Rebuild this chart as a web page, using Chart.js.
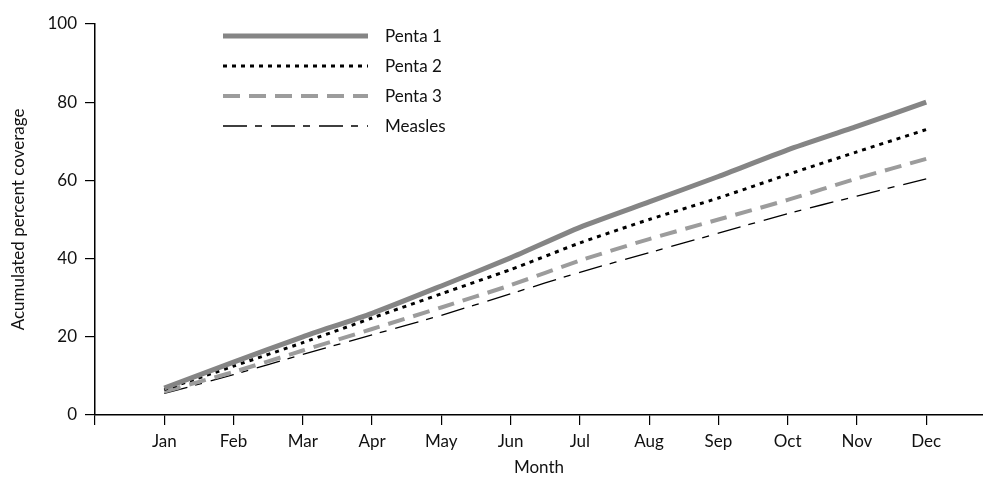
<!DOCTYPE html>
<html>
<head>
<meta charset="utf-8">
<script src="https://cdn.jsdelivr.net/npm/chart.js@4/dist/chart.umd.min.js"></script>
<style>
  html, body { margin: 0; padding: 0; background: #fff; }
  #wrap { width: 983px; height: 480px; }
</style>
</head>
<body>
<div id="wrap"><canvas id="cov"></canvas></div>
<script>
// data
var months = ["Jan","Feb","Mar","Apr","May","Jun","Jul","Aug","Sep","Oct","Nov","Dec"];
var penta1 = [6.9, 13.5, 20, 26, 33, 40.2, 48, 54.5, 61, 67.8, 73.8, 80];
var penta2 = [6.5, 12.5, 18.5, 24.8, 31, 37.2, 44, 50, 55.5, 61.5, 67.3, 73];
var penta3 = [6, 11, 16.5, 22, 27.5, 33.2, 39.5, 45, 50, 55, 60.5, 65.5];
var measles = [5.5, 10.3, 15.5, 20.5, 25.5, 31, 36.5, 41.5, 46.5, 51.5, 56, 60.4];
var yTicks = [0, 20, 40, 60, 80, 100];

var FONT = 'Lato';
var FSIZE = 17;

function pts(arr) {
    return arr.map(function(v, i){ return {x: i + 1, y: v}; });
}

// legend drawn inside the plot, top left
var legendInside = {
    id: 'legendInside',
    afterDraw: function(chart) {
        var c = chart.ctx;
        chart.data.datasets.forEach(function(ds, i) {
            var y = 36 + i * 30;
            c.save();
            c.strokeStyle = ds.borderColor;
            c.lineWidth = ds.borderWidth;
            c.setLineDash(ds.borderDash || []);
            c.beginPath();
            c.moveTo(223, y);
            c.lineTo(368, y);
            c.stroke();
            c.setLineDash([]);
            c.fillStyle = '#111';
            c.font = FSIZE + 'px ' + FONT;
            c.textBaseline = 'middle';
            c.fillText(ds.label, 385, y + 1);
            c.restore();
        });
    }
};

var ctx = document.getElementById("cov").getContext('2d');
var chart = new Chart(ctx, {
    type: 'line',
    data: {
        datasets: [{
            label: 'Penta 1',
            data: pts(penta1),
            borderColor: '#858585',
            borderWidth: 5,
            pointRadius: 0,
            tension: 0.2
        },
        {
            label: 'Penta 2',
            data: pts(penta2),
            borderColor: '#000000',
            borderWidth: 3,
            borderDash: [4, 5],
            pointRadius: 0,
            tension: 0.2
        },
        {
            label: 'Penta 3',
            data: pts(penta3),
            borderColor: '#9c9c9c',
            borderWidth: 4,
            borderDash: [17, 9],
            pointRadius: 0,
            tension: 0.2
        },
        {
            label: 'Measles',
            data: pts(measles),
            borderColor: '#000000',
            borderWidth: 1.3,
            borderDash: [24, 8, 7, 9],
            pointRadius: 0,
            tension: 0.2
        }]
    },
    options: {
        responsive: true,
        maintainAspectRatio: false,
        animation: false,
        events: [],
        layout: { padding: { top: 24, right: 0, left: 0, bottom: 0 } },
        plugins: {
            legend: { display: false },
            tooltip: { enabled: false }
        },
        scales: {
            x: {
                type: 'linear',
                min: 0,
                max: 12.82,
                afterBuildTicks: function(s) {
                    var t = [{value: 0}];
                    months.forEach(function(m, i){ t.push({value: i + 1}); });
                    s.ticks = t;
                },
                afterFit: function(s) { s.height = 65; },
                border: { color: '#000', width: 1.5 },
                grid: { drawOnChartArea: false, drawTicks: true, tickLength: 10, color: '#000', lineWidth: 1.2 },
                ticks: {
                    autoSkip: false,
                    maxRotation: 0,
                    padding: 6,
                    color: '#111',
                    font: { family: FONT, size: FSIZE },
                    callback: function(v) { return v >= 1 ? months[v - 1] : ''; }
                },
                title: {
                    display: true,
                    text: 'Month',
                    color: '#111',
                    font: { family: FONT, size: FSIZE },
                    padding: { top: 0, bottom: 2 }
                }
            },
            y: {
                min: 0,
                max: 100,
                afterBuildTicks: function(s) {
                    s.ticks = yTicks.map(function(v){ return {value: v}; });
                },
                afterFit: function(s) { s.width = 95; },
                border: { color: '#000', width: 1.5 },
                grid: { drawOnChartArea: false, drawTicks: true, tickLength: 10, color: '#000', lineWidth: 1.2 },
                ticks: {
                    padding: 8,
                    color: '#111',
                    font: { family: FONT, size: FSIZE }
                },
                title: {
                    display: true,
                    text: 'Acumulated percent coverage',
                    color: '#111',
                    font: { family: FONT, size: FSIZE },
                    padding: { top: 8, bottom: 0 }
                }
            }
        }
    },
    plugins: [legendInside]
});
</script>
</body>
</html>
